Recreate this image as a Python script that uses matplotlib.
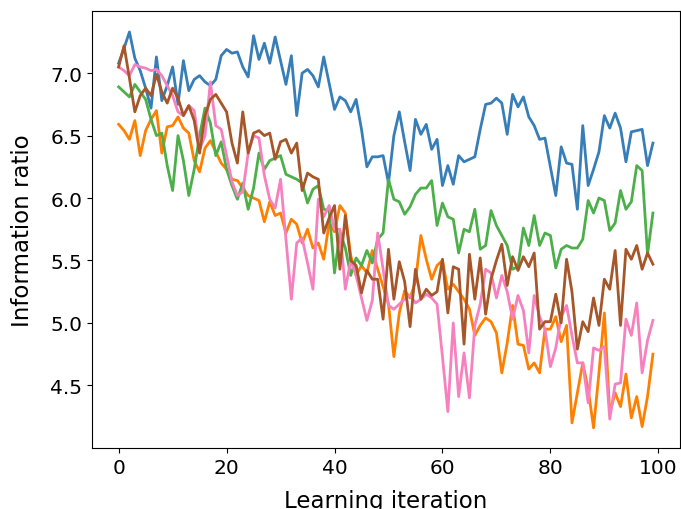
import matplotlib
matplotlib.use("Agg")
import matplotlib.pyplot as plt

# learning iterations 0..99
iterations = list(range(100))

blue = [7.08, 7.20, 7.33, 7.12, 7.02, 6.88, 6.72, 7.13, 6.78, 6.90,
        7.05, 6.75, 7.10, 6.86, 6.95, 6.98, 6.93, 6.90, 6.95, 7.14,
        7.19, 7.16, 7.17, 7.05, 6.97, 7.30, 7.11, 7.24, 7.08, 7.29,
        7.10, 6.91, 7.14, 6.66, 7.00, 7.03, 6.98, 6.89, 7.13, 6.92,
        6.71, 6.81, 6.78, 6.69, 6.79, 6.55, 6.25, 6.33, 6.33, 6.34,
        6.12, 6.50, 6.69, 6.45, 6.22, 6.63, 6.51, 6.59, 6.39, 6.47,
        6.10, 6.26, 6.11, 6.34, 6.29, 6.31, 6.33, 6.55, 6.75, 6.76,
        6.80, 6.76, 6.51, 6.83, 6.73, 6.81, 6.65, 6.58, 6.47, 6.48,
        6.25, 6.02, 6.41, 6.28, 6.27, 5.91, 6.58, 6.10, 6.23, 6.37,
        6.66, 6.56, 6.68, 6.56, 6.29, 6.53, 6.54, 6.55, 6.26, 6.44]

orange = [6.59, 6.54, 6.47, 6.62, 6.34, 6.54, 6.63, 6.70, 6.36, 6.57,
          6.58, 6.65, 6.56, 6.52, 6.30, 6.21, 6.40, 6.46, 6.37, 6.28,
          6.23, 6.15, 6.14, 6.08, 6.02, 6.00, 5.98, 5.81, 5.97, 5.86,
          5.88, 5.72, 5.83, 5.79, 5.64, 5.75, 5.60, 5.64, 5.51, 5.80,
          5.73, 5.94, 5.88, 5.54, 5.38, 5.46, 5.40, 5.58, 5.43, 5.29,
          5.15, 4.73, 5.08, 5.26, 5.20, 5.33, 5.70, 5.51, 5.35, 5.46,
          5.50, 5.27, 5.31, 5.25, 5.19, 5.11, 4.90, 4.98, 5.04, 5.01,
          4.92, 4.60, 4.84, 5.14, 4.83, 4.82, 4.63, 4.68, 4.60, 4.95,
          4.95, 5.05, 4.85, 4.98, 4.20, 4.44, 4.68, 4.47, 4.16, 4.60,
          5.08, 4.28, 4.44, 4.33, 4.59, 4.24, 4.41, 4.17, 4.41, 4.75]

green = [6.89, 6.85, 6.81, 6.91, 6.85, 6.79, 6.63, 6.50, 6.52, 6.26,
         6.06, 6.50, 6.30, 6.02, 6.23, 6.50, 6.72, 6.60, 6.34, 6.45,
         6.23, 6.10, 5.99, 6.12, 5.91, 6.08, 6.36, 6.23, 6.30, 6.32,
         6.34, 6.19, 6.17, 6.15, 6.12, 5.96, 6.07, 6.10, 5.91, 5.90,
         5.40, 5.73, 5.60, 5.38, 5.52, 5.46, 5.58, 5.48, 5.67, 5.72,
         6.15, 5.99, 5.97, 5.87, 5.93, 6.03, 6.08, 6.08, 6.14, 5.78,
         5.96, 5.85, 5.83, 5.56, 5.75, 5.73, 5.91, 5.59, 5.62, 5.90,
         5.78, 5.70, 5.62, 5.43, 5.45, 5.76, 5.62, 5.86, 5.62, 5.72,
         5.70, 5.44, 5.59, 5.62, 5.60, 5.60, 5.67, 5.98, 5.88, 6.00,
         5.98, 5.74, 5.80, 6.06, 5.91, 5.97, 6.26, 6.22, 5.55, 5.88]

pink = [7.05, 7.02, 6.98, 7.07, 7.05, 7.04, 7.02, 7.03, 6.98, 6.90,
        6.82, 6.69, 6.66, 6.74, 6.70, 6.39, 6.50, 6.93, 6.58, 6.55,
        6.34, 6.13, 6.02, 6.05, 6.36, 6.50, 6.48, 6.18, 5.99, 5.92,
        6.15, 5.67, 5.19, 5.64, 5.68, 5.48, 5.27, 5.99, 5.85, 5.94,
        5.75, 5.75, 5.27, 5.50, 5.38, 5.20, 5.02, 5.18, 5.72, 5.43,
        5.14, 5.11, 5.15, 5.19, 5.22, 5.16, 5.19, 5.23, 5.20, 5.15,
        4.73, 4.29, 5.00, 4.41, 4.76, 4.40, 4.98, 5.15, 5.43, 5.40,
        5.20, 5.38, 5.25, 5.03, 5.22, 5.10, 4.76, 5.22, 5.05, 4.95,
        4.65, 4.80, 5.05, 5.14, 4.90, 4.68, 4.68, 4.36, 4.80, 4.78,
        4.81, 4.23, 4.51, 4.52, 5.03, 4.90, 5.16, 4.60, 4.86, 5.02]

brown = [7.05, 7.22, 6.96, 6.69, 6.82, 6.88, 6.82, 6.99, 6.85, 6.76,
         6.88, 6.80, 6.66, 6.74, 6.62, 6.36, 6.66, 6.79, 6.83, 6.76,
         6.69, 6.44, 6.28, 6.69, 6.36, 6.52, 6.54, 6.50, 6.52, 6.31,
         6.45, 6.47, 6.36, 6.44, 6.06, 6.20, 6.17, 6.15, 5.72, 5.84,
         5.94, 5.43, 5.86, 5.50, 5.46, 5.24, 5.42, 5.35, 5.35, 5.03,
         5.59, 5.19, 5.49, 5.33, 4.97, 5.43, 5.19, 5.27, 5.22, 5.25,
         5.51, 5.08, 5.45, 5.43, 4.83, 5.55, 5.19, 5.52, 5.07, 5.35,
         5.50, 5.63, 5.30, 5.53, 5.42, 5.53, 5.45, 5.56, 4.95, 5.01,
         5.01, 5.23, 5.00, 5.51, 5.25, 4.79, 5.01, 4.93, 5.20, 4.98,
         5.35, 5.27, 5.58, 4.98, 5.59, 5.51, 5.62, 5.43, 5.56, 5.47]

series = [blue, orange, green, pink, brown]
colours = ["#377eb8", "#ff7f00", "#4daf4a", "#f781bf", "#a65628"]

fig = plt.figure(figsize=(6.81, 5.10), dpi=100)
ax = fig.add_axes([0.135, 0.12, 0.863, 0.857])

for vals, c in zip(series, colours):
    ax.plot(iterations, vals, color=c, lw=2)

ax.set_ylim(4.0, 7.5)
ax.set_xticks([0, 20, 40, 60, 80, 100])
ax.set_yticks([4.5, 5.0, 5.5, 6.0, 6.5, 7.0])
ax.tick_params(labelsize=14.5)
ax.set_xlabel("Learning iteration", fontsize=16.5, labelpad=9)
ax.set_ylabel("Information ratio", fontsize=16.5, labelpad=12)

fig.savefig("out.png", dpi=100)
